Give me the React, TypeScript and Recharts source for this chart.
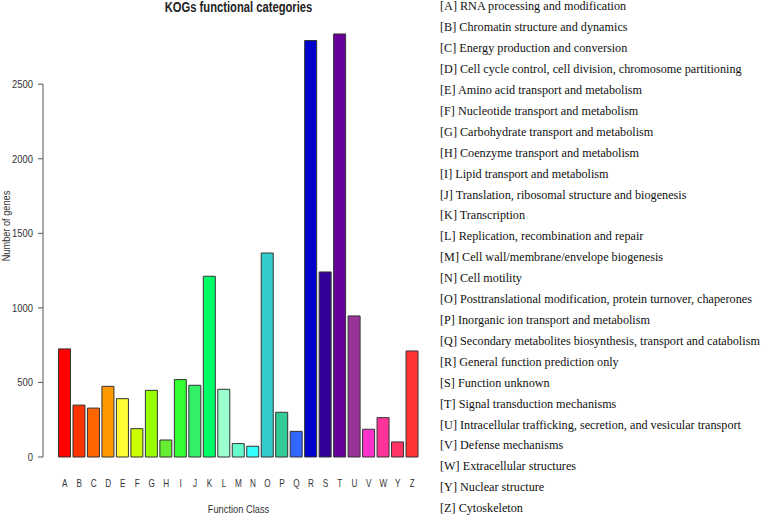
import { Bar, BarChart, Cell, ReferenceLine, XAxis, YAxis } from "recharts";

const categories = ["A", "B", "C", "D", "E", "F", "G", "H", "I", "J", "K", "L", "M", "N", "O", "P", "Q", "R", "S", "T", "U", "V", "W", "Y", "Z"];

const geneCounts = [725, 348, 328, 474, 391, 190, 447, 114, 519, 481, 1212, 454, 90, 72, 1368, 300, 172, 2793, 1241, 2837, 946, 186, 264, 101, 711];

const barColors = [
  "#ff0000", "#ff3300", "#ff6600", "#ff9900", "#ffff33", "#ccff00", "#99ff00", "#66ee33",
  "#33ff33", "#33ee66", "#00ff66", "#99ffcc", "#66ffcc", "#33ffff", "#33cccc", "#33cc99",
  "#3366ff", "#0000cc", "#330099", "#660099", "#993399", "#ff33cc", "#ff3399", "#ff3366", "#ff3333",
];

const descriptions = [
  "RNA processing and modification",
  "Chromatin structure and dynamics",
  "Energy production and conversion",
  "Cell cycle control, cell division, chromosome partitioning",
  "Amino acid transport and metabolism",
  "Nucleotide transport and metabolism",
  "Carbohydrate transport and metabolism",
  "Coenzyme transport and metabolism",
  "Lipid transport and metabolism",
  "Translation, ribosomal structure and biogenesis",
  "Transcription",
  "Replication, recombination and repair",
  "Cell wall/membrane/envelope biogenesis",
  "Cell motility",
  "Posttranslational modification, protein turnover, chaperones",
  "Inorganic ion transport and metabolism",
  "Secondary metabolites biosynthesis, transport and catabolism",
  "General function prediction only",
  "Function unknown",
  "Signal transduction mechanisms",
  "Intracellular trafficking, secretion, and vesicular transport",
  "Defense mechanisms",
  "Extracellular structures",
  "Nuclear structure",
  "Cytoskeleton",
];

const yTicks = [0, 500, 1000, 1500, 2000, 2500];

const sans = "'Liberation Sans', Arial, sans-serif";
const serif = "'Liberation Serif', 'Times New Roman', serif";

function YTick({ x, y, payload }: any) {
  return (
    <g transform={`translate(${x},${y})`}>
      <text textAnchor="end" dy={4} fontSize={11.5} fontFamily={sans} fill="#333" transform="scale(0.82,1)">
        {payload.value}
      </text>
    </g>
  );
}

function XTick({ x, y, payload }: any) {
  return (
    <g transform={`translate(${x},${y})`}>
      <text textAnchor="middle" dy={30} fontSize={10} fontFamily={sans} fill="#333" transform="scale(0.82,1)">
        {payload.value}
      </text>
    </g>
  );
}

function XTitle() {
  return (
    <g transform="translate(238.5,513) scale(0.81,1)">
      <text x={0} y={0} textAnchor="middle" fontSize={11.5} fontFamily={sans} fill="#333">
        Function Class
      </text>
    </g>
  );
}

export default function App() {
  const data = categories.map((c, i) => ({ cls: c, count: geneCounts[i] }));

  return (
    <div style={{ position: "absolute", left: 0, top: 0, width: 761, height: 515, background: "#fff" }}>
      <BarChart
        width={761}
        height={515}
        data={data}
        margin={{ top: 32, right: 341.5, bottom: 28, left: 0 }}
        barCategoryGap={1}
      >
        <XAxis
          dataKey="cls"
          height={30}
          padding={{ left: 14.5, right: 0 }}
          tickLine={false}
          axisLine={false}
          tickSize={0}
          tickMargin={0}
          interval={0}
          tick={<XTick />}
          label={{ content: XTitle }}
        />
        <XAxis xAxisId="frame" type="number" domain={[0, 1]} hide />
        <YAxis
          width={43}
          domain={[0, 2850]}
          ticks={yTicks}
          axisLine={false}
          tickSize={5}
          tickMargin={5}
          tickLine={{ stroke: "#555" }}
          tick={<YTick />}
        />
        <ReferenceLine xAxisId="frame" segment={[{ x: 0, y: 0 }, { x: 0, y: 2500 }]} stroke="#555" />
        <Bar dataKey="count" stroke="#333" strokeWidth={1} isAnimationActive={false}>
          {data.map((d, i) => (
            <Cell key={d.cls} fill={barColors[i]} />
          ))}
        </Bar>
      </BarChart>
      <div
        style={{
          position: "absolute",
          left: 0,
          width: 477,
          top: -1,
          textAlign: "center",
          fontFamily: sans,
          fontWeight: "bold",
          fontSize: 14,
          lineHeight: "16px",
          color: "#222",
          transform: "scaleX(0.8)",
          zIndex: 2,
        }}
      >
        KOGs functional categories
      </div>
      <div
        style={{
          position: "absolute",
          left: 6,
          top: 226,
          fontFamily: sans,
          fontSize: 11.5,
          lineHeight: "13px",
          color: "#333",
          whiteSpace: "nowrap",
          transform: "translate(-50%,-50%) rotate(-90deg) scaleX(0.8)",
          zIndex: 2,
        }}
      >
        Number of genes
      </div>
      <div
        style={{
          position: "absolute",
          left: 440,
          top: -3.6,
          fontFamily: serif,
          fontSize: 12.2,
          lineHeight: "20.9px",
          color: "#111",
          whiteSpace: "nowrap",
          zIndex: 2,
        }}
      >
        {categories.map((c, i) => (
          <div key={c}>
            [{c}] {descriptions[i]}
          </div>
        ))}
      </div>
    </div>
  );
}
